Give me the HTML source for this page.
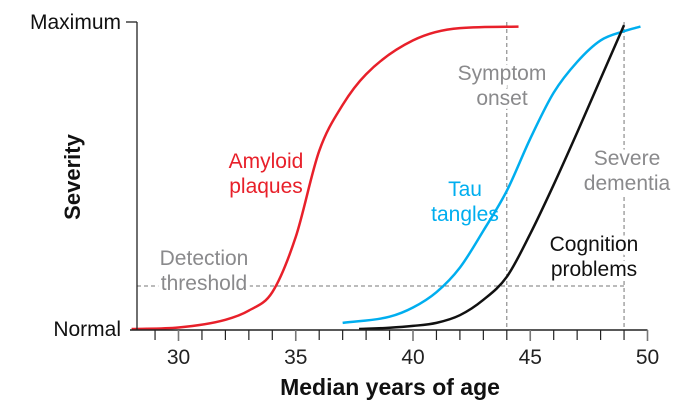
<!DOCTYPE html>
<html><head><meta charset="utf-8"><style>
body{margin:0;background:#fff}
svg{display:block;font-family:"Liberation Sans",sans-serif}
</style></head><body>
<svg id="c" width="681" height="408"></svg>
<script>
const xTicks=[30,35,40,45,50];
const amyloidX=[28,30,32,33,34,35,36,37,38,40,42,44.5];
const amyloidY=[0,0.5,3,6,12,30,58,73,83,94,98,98.5];
const tauX=[37,39,40,41,42,43,44,45,46,47,48,49,49.7];
const tauY=[2,4,7,12,20,32,45,62,77,87,94,97,98.5];
const cogX=[37.7,39,40,41,42,43,44,45,46,47,48,49];
const cogY=[0,0.4,1,2,4.5,9.5,17,31,47,64,81.5,99];
const thresholdVal=14;const onsetAge=44;const dementiaAge=49;
const X=v=>178.5+(v-30)*23.45;
const Y=s=>329-s*3.07;
const svg=document.getElementById('c');const NS='http://www.w3.org/2000/svg';
function mk(t,a,p){const e=document.createElementNS(NS,t);for(const k in a)e.setAttribute(k,a[k]);(p||svg).appendChild(e);return e;}
function smooth(xs,ys){const n=xs.length,px=xs.map(X),py=ys.map(Y);const d=[],m=[];
for(let i=0;i<n-1;i++)d.push((py[i+1]-py[i])/(px[i+1]-px[i]));
m[0]=d[0];m[n-1]=d[n-2];
for(let i=1;i<n-1;i++){m[i]=(d[i-1]*d[i]<=0)?0:(d[i-1]+d[i])/2;}
for(let i=0;i<n-1;i++){if(d[i]===0){m[i]=m[i+1]=0;continue;}const a=m[i]/d[i],b=m[i+1]/d[i],s=a*a+b*b;if(s>9){const t=3/Math.sqrt(s);m[i]=t*a*d[i];m[i+1]=t*b*d[i];}}
let p='M'+px[0]+','+py[0];
for(let i=0;i<n-1;i++){const h=(px[i+1]-px[i])/3;p+=`C${px[i]+h},${py[i]+m[i]*h} ${px[i+1]-h},${py[i+1]-m[i+1]*h} ${px[i+1]},${py[i+1]}`;}
return p;}
let e=mk('line',{x1:137,x2:X(dementiaAge),y1:Y(thresholdVal),y2:Y(thresholdVal),stroke:'#777','stroke-dasharray':'4,3','stroke-width':1});

e=mk('line',{x1:X(onsetAge),x2:X(onsetAge),y1:22,y2:330,stroke:'#777','stroke-dasharray':'4,3','stroke-width':1});

e=mk('line',{x1:X(dementiaAge),x2:X(dementiaAge),y1:22,y2:330,stroke:'#777','stroke-dasharray':'4,3','stroke-width':1});

function lbl(lines,x,y,fill,name,bg){const g=mk('g',{});
lines.forEach((s,i)=>{const t=mk('text',{x:x,y:y+i*25,'font-size':21,fill:fill,'text-anchor':'middle'},g);
if(bg){t.setAttribute('stroke','#fff');t.setAttribute('stroke-width',8);t.setAttribute('paint-order','stroke');}t.textContent=s;});}
lbl(['Symptom','onset'],502,80,'#8a8a8c','symptom-onset-label',true);
lbl(['Severe','dementia'],627,165,'#8a8a8c','severe-dementia-label',true);
lbl(['Detection','threshold'],204,265,'#8a8a8c','detection-threshold-label',true);
lbl(['Amyloid','plaques'],266,168,'#e8202a','amyloid-label',false);
lbl(['Tau','tangles'],465,196,'#00aeef','tau-label',false);
lbl(['Cognition','problems'],594,251,'#111','cognition-label',true);
e=mk('path',{d:smooth(amyloidX,amyloidY),fill:'none',stroke:'#e8202a','stroke-width':2.5});

e=mk('path',{d:smooth(tauX,tauY),fill:'none',stroke:'#00aeef','stroke-width':2.5});

e=mk('path',{d:smooth(cogX,cogY),fill:'none',stroke:'#111','stroke-width':2.5});

e=mk('line',{x1:137,x2:137,y1:22,y2:330,stroke:'#222','stroke-width':1.3});

mk('line',{x1:126,x2:137,y1:22,y2:22,stroke:'#222','stroke-width':1.3});
e=mk('line',{x1:130,x2:X(50),y1:330,y2:330,stroke:'#222','stroke-width':1.5});

for(let v=29;v<=50;v++){const maj=xTicks.includes(v);
e=mk('line',{x1:X(v),x2:X(v),y1:330,y2:maj?341:340,stroke:maj?'#777':'#222','stroke-width':maj?1.6:1.2});
}
xTicks.forEach(v=>{e=mk('text',{x:X(v),y:364,'font-size':21,fill:'#222','text-anchor':'middle'});e.textContent=v;
});
e=mk('text',{x:121,y:29,'font-size':21,fill:'#111','text-anchor':'end'});e.textContent='Maximum';

e=mk('text',{x:121,y:336,'font-size':21,fill:'#111','text-anchor':'end'});e.textContent='Normal';

e=mk('text',{x:0,y:0,'font-size':22,'font-weight':'bold',fill:'#111','text-anchor':'middle',transform:'translate(80,177) rotate(-90)'});e.textContent='Severity';

e=mk('text',{x:390,y:395,'font-size':23,'font-weight':'bold',fill:'#111','text-anchor':'middle'});e.textContent='Median years of age';

</script>
</body></html>
